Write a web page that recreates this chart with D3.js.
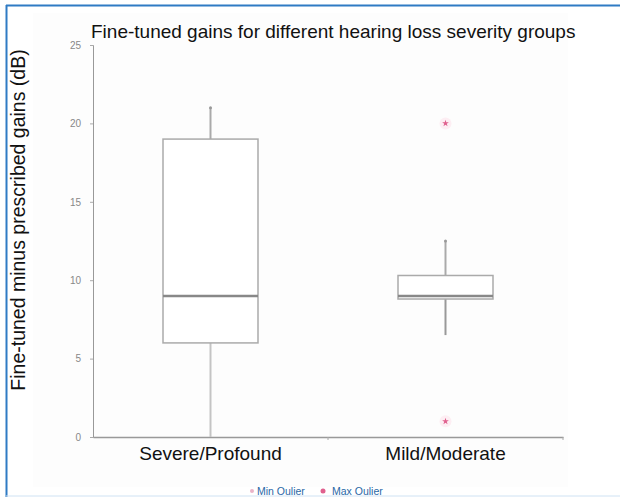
<!DOCTYPE html>
<html>
<head>
<meta charset="utf-8">
<script src="https://cdn.jsdelivr.net/npm/d3@7"></script>
<style>
  body { margin: 0; background: #fff; }
  svg { display: block; font-family: Arial, "Liberation Sans", sans-serif; }
</style>
</head>
<body>
<div id="vis"></div>
<script>
// data
var groups = ['Severe/Profound', 'Mild/Moderate'];
var whiskerLow = [0, 6.5];
var q1 = [6, 8.8];
var median = [9, 9];
var q3 = [19, 10.3];
var whiskerHigh = [21, 12.5];
var minOutlier = [null, 1];
var maxOutlier = [null, 20];
var yTicks = [0, 5, 10, 15, 20, 25];
var legendLabels = ['Min Oulier', 'Max Oulier'];

var width = 620;
var height = 497;
var margin = { left: 93, right: 57, top: 45, bottom: 60 };

var svg = d3.select('#vis').append('svg')
  .attr('width', width)
  .attr('height', height);

// frame
svg.append('rect').attr('x', 0).attr('y', 0).attr('width', width).attr('height', height).attr('fill', '#fff');
svg.append('rect').attr('x', 33).attr('y', 13).attr('width', 535).attr('height', 474).attr('fill', '#fdfdfd');
svg.append('line').attr('x1', 6.5).attr('x2', 6.5).attr('y1', 5).attr('y2', height)
  .attr('stroke', '#2f7bc4').attr('stroke-width', 2);
svg.append('line').attr('x1', 6).attr('x2', width).attr('y1', 5.5).attr('y2', 5.5)
  .attr('stroke', '#2f7bc4').attr('stroke-width', 2);

var x = d3.scaleBand()
  .domain(groups)
  .range([margin.left, width - margin.right])
  .paddingInner(0)
  .paddingOuter(0);

var y = d3.scaleLinear()
  .domain([0, 25])
  .range([height - margin.bottom, margin.top]);

var boxWidth = 95;

// y axis
var yAxis = svg.append('g')
  .attr('transform', 'translate(' + margin.left + ',0)')
  .call(d3.axisLeft(y).tickValues(yTicks).tickSize(3).tickPadding(9));
yAxis.select('.domain').attr('stroke', '#999');
yAxis.selectAll('.tick line').attr('stroke', '#aaa');
yAxis.selectAll('.tick text').attr('fill', '#888').style('font-size', '10px');

// x axis
var xAxis = svg.append('g')
  .attr('transform', 'translate(0,' + y(0) + ')')
  .call(d3.axisBottom(x).tickSize(0).tickPadding(10));
xAxis.select('.domain').attr('stroke', '#999').attr('stroke-width', 1.5);
xAxis.selectAll('.tick text').attr('fill', '#111').style('font-size', '19px');
// small separator ticks between groups
svg.append('g').selectAll('line')
  .data(groups)
  .enter().append('line')
  .attr('x1', function (d) { return x(d) + x.bandwidth(); })
  .attr('x2', function (d) { return x(d) + x.bandwidth(); })
  .attr('y1', y(0))
  .attr('y2', y(0) + 3)
  .attr('stroke', '#aaa');

// boxes
var boxes = svg.append('g').selectAll('g')
  .data(groups)
  .enter().append('g');

function cx(d) { return x(d) + x.bandwidth() / 2; }

boxes.append('line')
  .attr('x1', cx).attr('x2', cx)
  .attr('y1', function (d, i) { return y(whiskerLow[i]); })
  .attr('y2', function (d, i) { return y(q1[i]); })
  .attr('stroke', function (d, i) { return i === 0 ? '#c4c4c4' : '#999'; })
  .attr('stroke-width', 2);

boxes.append('line')
  .attr('x1', cx).attr('x2', cx)
  .attr('y1', function (d, i) { return y(q3[i]); })
  .attr('y2', function (d, i) { return y(whiskerHigh[i]); })
  .attr('stroke', '#aaa')
  .attr('stroke-width', 2);

boxes.append('rect')
  .attr('x', function (d) { return cx(d) - boxWidth / 2; })
  .attr('y', function (d, i) { return y(q3[i]); })
  .attr('width', boxWidth)
  .attr('height', function (d, i) { return y(q1[i]) - y(q3[i]); })
  .attr('fill', '#fff')
  .attr('stroke', '#aaa')
  .attr('stroke-width', 1.5);

boxes.append('line')
  .attr('x1', function (d) { return cx(d) - boxWidth / 2; })
  .attr('x2', function (d) { return cx(d) + boxWidth / 2; })
  .attr('y1', function (d, i) { return y(median[i]); })
  .attr('y2', function (d, i) { return y(median[i]); })
  .attr('stroke', '#888')
  .attr('stroke-width', 2.5);

// whisker end dot on top
boxes.append('circle')
  .attr('cx', cx)
  .attr('cy', function (d, i) { return y(whiskerHigh[i]); })
  .attr('r', 1.5)
  .attr('fill', '#999');

// outliers
var star = d3.symbol().type(d3.symbolStar).size(14);
var outliers = [];
groups.forEach(function (g, i) {
  if (minOutlier[i] != null) outliers.push({ g: g, v: minOutlier[i] });
  if (maxOutlier[i] != null) outliers.push({ g: g, v: maxOutlier[i] });
});
var outG = svg.append('g');
outG.selectAll('circle')
  .data(outliers)
  .enter().append('circle')
  .attr('cx', function (d) { return cx(d.g); })
  .attr('cy', function (d) { return y(d.v); })
  .attr('r', 6)
  .attr('fill', '#fdeef3');
outG.selectAll('path')
  .data(outliers)
  .enter().append('path')
  .attr('d', star)
  .attr('transform', function (d) { return 'translate(' + cx(d.g) + ',' + y(d.v) + ')'; })
  .attr('fill', '#e0608e');

// title
svg.append('text')
  .attr('x', 91)
  .attr('y', 38)
  .style('font-size', '19px')
  .attr('fill', '#111')
  .text('Fine-tuned gains for different hearing loss severity groups');

// y label
svg.append('text')
  .attr('transform', 'translate(25,220) rotate(-90)')
  .attr('text-anchor', 'middle')
  .style('font-size', '19.5px')
  .attr('fill', '#111')
  .text('Fine-tuned minus prescribed gains (dB)');

// legend
var legendX = [252, 323];
var legend = svg.append('g').selectAll('g')
  .data(legendLabels)
  .enter().append('g')
  .attr('transform', function (d, i) { return 'translate(' + legendX[i] + ',491)'; });
legend.append('circle')
  .attr('r', function (d, i) { return i === 0 ? 2 : 2.5; })
  .attr('fill', function (d, i) { return i === 0 ? '#eab3c8' : '#e0608e'; });
legend.append('text')
  .attr('x', function (d, i) { return i === 0 ? 5 : 9; })
  .attr('y', 3.5)
  .style('font-size', '10.5px')
  .attr('fill', '#2a68a6')
  .text(function (d) { return d; });

svg.append('line').attr('x1', 6).attr('x2', width).attr('y1', 496).attr('y2', 496)
  .attr('stroke', '#cfe2f3').attr('stroke-width', 1);
</script>
</body>
</html>
